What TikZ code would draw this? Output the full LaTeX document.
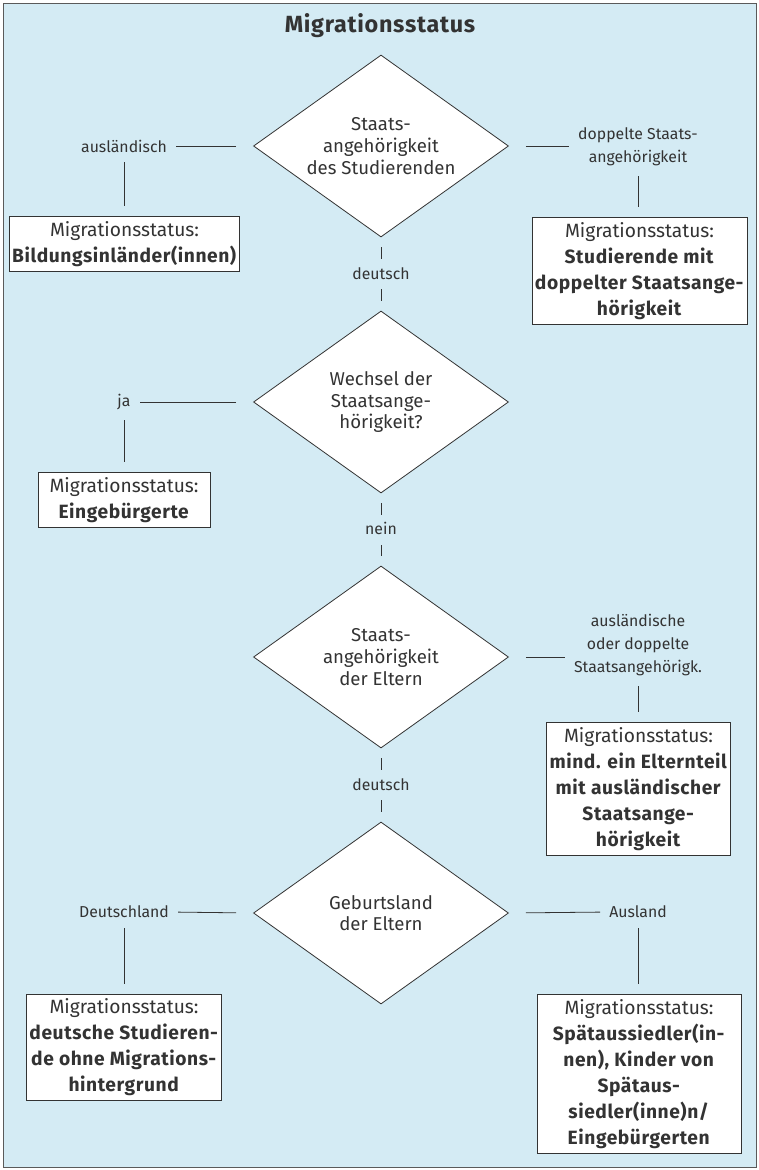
\documentclass[tikz,border=0pt]{standalone}
\usepackage{fontspec}
\setmainfont{Fira Sans}[BoldFeatures={LetterSpace=3}]
\usetikzlibrary{shapes.geometric}

\definecolor{bgblue}{HTML}{D4EBF4}
\definecolor{inkgray}{HTML}{333333}
\definecolor{framegray}{HTML}{5A5A5A}

\tikzset{
  decision/.style={diamond, draw=inkgray, fill=white, line width=0.8pt,
    minimum width=255pt, minimum height=182pt, inner sep=0pt, aspect=1.4,
    align=center, font=\fontsize{18.6}{21.7}\selectfont},
  statusbox/.style={rectangle, draw=inkgray, fill=white, line width=0.8pt,
    align=center, inner xsep=3pt, inner ysep=4.5pt,
    font=\fontsize{19.2}{26}\selectfont},
  answer/.style={align=center, inner sep=0pt, font=\fontsize{15.8}{23}\selectfont},
  midanswer/.style={answer, fill=bgblue, inner xsep=2pt, text height=20pt, text depth=10pt},
  branch/.style={draw=inkgray, line width=0.8pt, shorten <=17pt, shorten >=9pt},
  drop/.style={draw=inkgray, line width=0.8pt, shorten <=10pt, shorten >=10pt},
}

\begin{document}
\begin{tikzpicture}[x=1pt, y=-1pt, every node/.style={text=inkgray}]
    \useasboundingbox (0,0) rectangle (758,1170);
    \draw[framegray, fill=bgblue, line width=1pt] (3,3) rectangle (756,1167);

    %% Title
    \node[font=\fontsize{23.4}{28}\selectfont\bfseries] (title) at (380,26) {Migrationsstatus};

    %% Decisions
    \node[decision] (d1) at (381,146) {Staats-\\angehörigkeit\\des Studierenden};
    \node[decision] (d2) at (381,402) {Wechsel der\\Staatsange-\\hörigkeit?};
    \node[decision] (d3) at (381,657) {Staats-\\angehörigkeit\\der Eltern};
    \node[decision] (d4) at (381,913) {Geburtsland\\der Eltern};

    %% Answers
    \node[answer] (a1l) at (124,146) {ausländisch};
    \node[answer] (a1r) at (638,147) {doppelte Staats-\\angehörigkeit};
    \node[answer] (a2l) at (124,402) {ja};
    \node[answer] (a3r) at (638,645) {ausländische\\oder doppelte\\Staatsangehörigk.};
    \node[answer] (a4l) at (124,912) {Deutschland};
    \node[answer] (a4r) at (638,912) {Ausland};

    %% Status boxes
    \node[statusbox] (s1) at (124.5,244) {Migrationsstatus:\\\textbf{Bildungsinländer(innen)}};
    \node[statusbox] (s2) at (639.5,271) {Migrationsstatus:\\\textbf{Studierende mit}\\\textbf{doppelter Staatsange-}\\\textbf{hörigkeit}};
    \node[statusbox, minimum width=172pt] (s3) at (124,500) {Migrationsstatus:\\\textbf{Eingebürgerte}};
    \node[statusbox] (s4) at (638.5,789) {Migrationsstatus:\\\textbf{mind. ein Elternteil}\\\textbf{mit ausländischer}\\\textbf{Staatsange-}\\\textbf{hörigkeit}};
    \node[statusbox] (s5) at (124,1047.5) {Migrationsstatus:\\\textbf{deutsche Studieren-}\\\textbf{de ohne Migrations-}\\\textbf{hintergrund}};
    \node[statusbox, minimum width=204pt] (s6) at (639,1074) {Migrationsstatus:\\\textbf{Spätaussiedler(in-}\\\textbf{nen), Kinder von}\\\textbf{Spätaus-}\\\textbf{siedler(inne)n/}\\\textbf{Eingebürgerten}};

    %% Main line
    \draw[drop] (d1.south) -- node[midanswer] (m1) {deutsch} (d2.north);
    \draw[drop] (d2.south) -- node[midanswer] (m2) {nein} (d3.north);
    \draw[drop] (d3.south) -- node[midanswer] (m3) {deutsch} (d4.north);

    %% Branches
    \draw[branch] (d1.west) -- (a1l.east);
    \draw[branch] (d1.east) -- (d1.east -| a1r.west);
    \draw[branch] (d2.west) -- (a2l.east);
    \draw[branch] (d3.east) -- (d3.east -| a3r.west);
    \draw[branch] (d4.west) -- (a4l.east);
    \draw[branch] (d4.east) -- (a4r.west);

    %% Drops to boxes
    \draw[drop] (a1l.south) -- (a1l.south |- s1.north);
    \draw[drop] (a1r.south) -- (a1r.south |- s2.north);
    \draw[drop] (a2l.south) -- (a2l.south |- s3.north);
    \draw[drop] (a3r.south) -- (a3r.south |- s4.north);
    \draw[drop] (a4l.south) -- (a4l.south |- s5.north);
    \draw[drop] (a4r.south) -- (a4r.south |- s6.north);
\end{tikzpicture}
\end{document}
